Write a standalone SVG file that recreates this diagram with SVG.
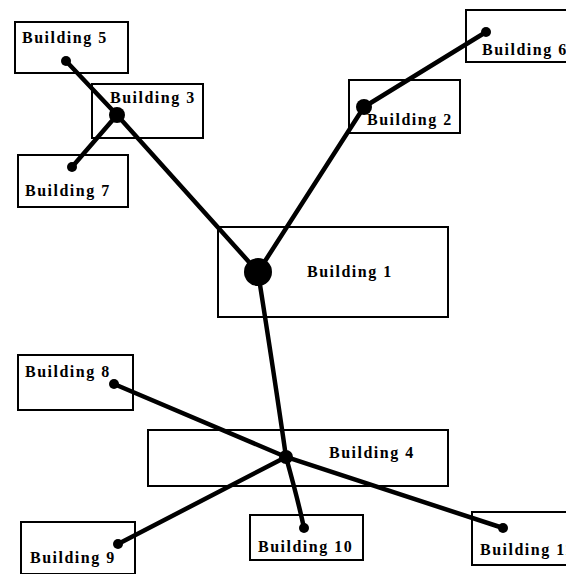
<svg xmlns="http://www.w3.org/2000/svg" width="566" height="574" viewBox="0 0 566 574">
<style>
.box{fill:#fff;stroke:#000;stroke-width:2}
.lbl{font-family:"Liberation Serif","DejaVu Serif",serif;font-weight:bold;font-size:16px;letter-spacing:1.5px;fill:#000}
.ln{stroke:#000;stroke-width:4.5;stroke-linecap:round;fill:none}
.dot{fill:#000}
</style>
<rect width="566" height="574" fill="#fff"/>
<g id="building5"><rect class="box" x="15" y="22" width="113" height="51"/><text class="lbl" x="22" y="43">Building 5</text></g>
<g id="building3"><rect class="box" x="92" y="84" width="111" height="54"/><text class="lbl" x="110" y="103">Building 3</text></g>
<g id="building7"><rect class="box" x="18" y="155" width="110" height="52"/><text class="lbl" x="25" y="196">Building 7</text></g>
<g id="building6"><rect class="box" x="466" y="10" width="110" height="52"/><text class="lbl" x="482" y="55">Building 6</text></g>
<g id="building2"><rect class="box" x="349" y="80" width="111" height="53"/><text class="lbl" x="367" y="125">Building 2</text></g>
<g id="building1"><rect class="box" x="218" y="227" width="230" height="90"/><text class="lbl" x="307" y="277">Building 1</text></g>
<g id="building8"><rect class="box" x="18" y="355" width="115" height="55"/><text class="lbl" x="25" y="377">Building 8</text></g>
<g id="building4"><rect class="box" x="148" y="430" width="300" height="56"/><text class="lbl" x="329" y="458">Building 4</text></g>
<g id="building9"><rect class="box" x="21" y="522" width="114" height="52"/><text class="lbl" x="30" y="563">Building 9</text></g>
<g id="building10"><rect class="box" x="250" y="515" width="113" height="45"/><text class="lbl" x="258" y="552">Building 10</text></g>
<g id="building11"><rect class="box" x="472" y="512" width="110" height="53"/><text class="lbl" x="480" y="555">Building 11</text></g>
<g id="connectors">
<path class="ln" d="M66 61 L117 115 L258 272"/>
<path class="ln" d="M72 167 L117 115"/>
<path class="ln" d="M258 272 L364 107 L486 32"/>
<path class="ln" d="M258 272 Q275 380 286 457 Q298 500 304 528"/>
<path class="ln" d="M114 384 L286 457 L503 528"/>
<path class="ln" d="M118 544 L286 457"/>
<circle class="dot" cx="66" cy="61" r="5"/>
<circle class="dot" cx="117" cy="115" r="8"/>
<circle class="dot" cx="72" cy="167" r="5"/>
<circle class="dot" cx="486" cy="32" r="5"/>
<circle class="dot" cx="364" cy="107" r="8"/>
<circle class="dot" cx="258" cy="272" r="14"/>
<circle class="dot" cx="114" cy="384" r="5"/>
<circle class="dot" cx="286" cy="457" r="7"/>
<circle class="dot" cx="118" cy="544" r="5"/>
<circle class="dot" cx="304" cy="528" r="5"/>
<circle class="dot" cx="503" cy="528" r="5"/>
</g>
</svg>
